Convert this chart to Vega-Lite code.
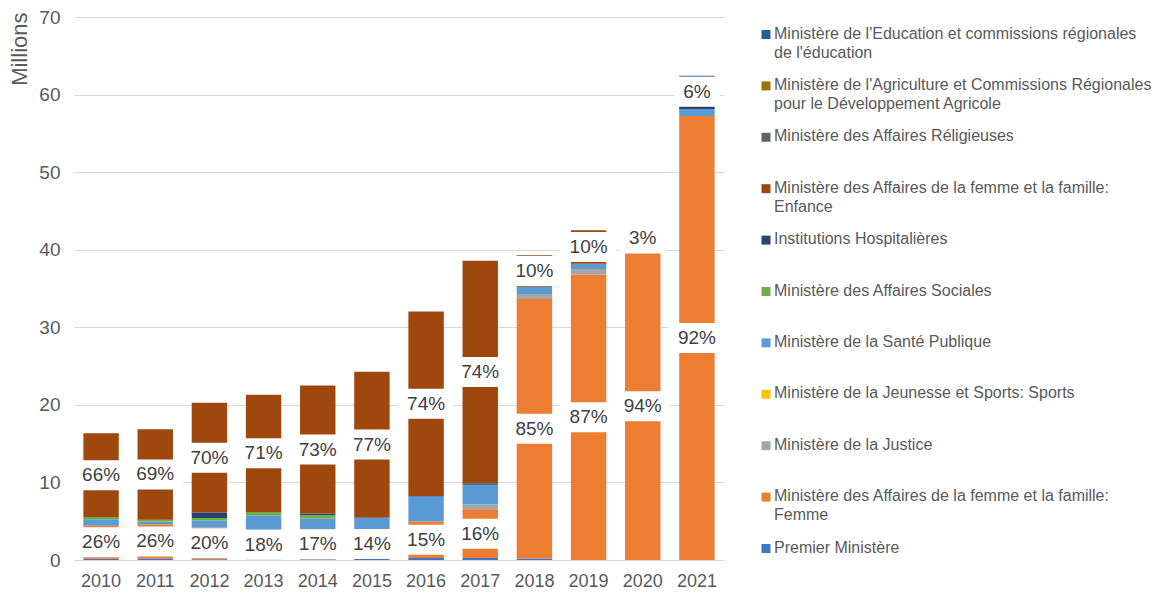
{
  "$schema": "https://vega.github.io/schema/vega-lite/v6.json",
  "width": 650,
  "height": 543,
  "autosize": {"type": "none"},
  "padding": {"left": 74, "top": 17, "right": 436, "bottom": 34},
  "background": "white",
  "config": {"view": {"stroke": null}, "font": "Liberation Sans"},
  "data": {
    "values": [
      {"year": 2010, "m": "Premier Ministère", "v": 0.15},
      {"year": 2010, "m": "Ministère des Affaires de la femme et la famille: Femme", "v": 4.25},
      {"year": 2010, "m": "Ministère de la Santé Publique", "v": 0.85},
      {"year": 2010, "m": "Ministère des Affaires Sociales", "v": 0.28},
      {"year": 2010, "m": "Ministère des Affaires de la femme et la famille: Enfance", "v": 10.8},

      {"year": 2011, "m": "Premier Ministère", "v": 0.2},
      {"year": 2011, "m": "Ministère des Affaires de la femme et la famille: Femme", "v": 4.4},
      {"year": 2011, "m": "Ministère de la Santé Publique", "v": 0.35},
      {"year": 2011, "m": "Ministère des Affaires Sociales", "v": 0.25},
      {"year": 2011, "m": "Ministère des Affaires de la femme et la famille: Enfance", "v": 11.65},

      {"year": 2012, "m": "Premier Ministère", "v": 0.1},
      {"year": 2012, "m": "Ministère des Affaires de la femme et la famille: Femme", "v": 4.1},
      {"year": 2012, "m": "Ministère de la Santé Publique", "v": 0.9},
      {"year": 2012, "m": "Ministère des Affaires Sociales", "v": 0.33},
      {"year": 2012, "m": "Institutions Hospitalières", "v": 0.7},
      {"year": 2012, "m": "Ministère des Affaires de la femme et la famille: Enfance", "v": 14.13},

      {"year": 2013, "m": "Premier Ministère", "v": 0.05},
      {"year": 2013, "m": "Ministère des Affaires de la femme et la famille: Femme", "v": 3.85},
      {"year": 2013, "m": "Ministère de la Santé Publique", "v": 1.86},
      {"year": 2013, "m": "Ministère des Affaires Sociales", "v": 0.43},
      {"year": 2013, "m": "Ministère des Affaires de la femme et la famille: Enfance", "v": 15.12},

      {"year": 2014, "m": "Premier Ministère", "v": 0.1},
      {"year": 2014, "m": "Ministère des Affaires de la femme et la famille: Femme", "v": 3.85},
      {"year": 2014, "m": "Ministère de la Santé Publique", "v": 1.4},
      {"year": 2014, "m": "Ministère des Affaires Sociales", "v": 0.45},
      {"year": 2014, "m": "Institutions Hospitalières", "v": 0.18},
      {"year": 2014, "m": "Ministère des Affaires de la femme et la famille: Enfance", "v": 16.5},

      {"year": 2015, "m": "Premier Ministère", "v": 0.3},
      {"year": 2015, "m": "Ministère des Affaires de la femme et la famille: Femme", "v": 3.5},
      {"year": 2015, "m": "Ministère de la Santé Publique", "v": 1.6},
      {"year": 2015, "m": "Institutions Hospitalières", "v": 0.08},
      {"year": 2015, "m": "Ministère des Affaires de la femme et la famille: Enfance", "v": 18.8},

      {"year": 2016, "m": "Premier Ministère", "v": 0.25},
      {"year": 2016, "m": "Ministère des Affaires de la femme et la famille: Femme", "v": 4.7},
      {"year": 2016, "m": "Ministère de la Santé Publique", "v": 3.25},
      {"year": 2016, "m": "Institutions Hospitalières", "v": 0.05},
      {"year": 2016, "m": "Ministère des Affaires de la femme et la famille: Enfance", "v": 23.8},

      {"year": 2017, "m": "Premier Ministère", "v": 0.25},
      {"year": 2017, "m": "Ministère des Affaires de la femme et la famille: Femme", "v": 6.28},
      {"year": 2017, "m": "Ministère de la Justice", "v": 0.64},
      {"year": 2017, "m": "Ministère de la Santé Publique", "v": 2.53},
      {"year": 2017, "m": "Institutions Hospitalières", "v": 0.18},
      {"year": 2017, "m": "Ministère des Affaires de la femme et la famille: Enfance", "v": 28.7},

      {"year": 2018, "m": "Premier Ministère", "v": 0.2},
      {"year": 2018, "m": "Ministère des Affaires de la femme et la famille: Femme", "v": 33.45},
      {"year": 2018, "m": "Ministère de la Justice", "v": 0.64},
      {"year": 2018, "m": "Ministère de la Santé Publique", "v": 0.94},
      {"year": 2018, "m": "Ministère des Affaires de la femme et la famille: Enfance", "v": 4.05},

      {"year": 2019, "m": "Ministère des Affaires de la femme et la famille: Femme", "v": 36.8},
      {"year": 2019, "m": "Ministère de la Justice", "v": 0.7},
      {"year": 2019, "m": "Ministère de la Santé Publique", "v": 0.7},
      {"year": 2019, "m": "Ministère des Affaires de la femme et la famille: Enfance", "v": 4.3},

      {"year": 2020, "m": "Ministère des Affaires de la femme et la famille: Femme", "v": 39.62},
      {"year": 2020, "m": "Ministère de la Justice", "v": 0.5},
      {"year": 2020, "m": "Ministère de la Santé Publique", "v": 0.68},
      {"year": 2020, "m": "Ministère des Affaires de la femme et la famille: Enfance", "v": 1.3},

      {"year": 2021, "m": "Ministère des Affaires de la femme et la famille: Femme", "v": 57.24},
      {"year": 2021, "m": "Ministère de la Santé Publique", "v": 0.9},
      {"year": 2021, "m": "Institutions Hospitalières", "v": 0.26},
      {"year": 2021, "m": "Ministère des Affaires de la femme et la famille: Enfance", "v": 3.9},
      {"year": 2021, "m": "Ministère de l'Education et commissions régionales de l'éducation", "v": 0.13}
    ]
  },
  "transform": [
    {"calculate": "indexof([\"Premier Ministère\", \"Ministère des Affaires de la femme et la famille: Femme\", \"Ministère de la Justice\", \"Ministère de la Jeunesse et Sports: Sports\", \"Ministère de la Santé Publique\", \"Ministère des Affaires Sociales\", \"Institutions Hospitalières\", \"Ministère des Affaires de la femme et la famille: Enfance\", \"Ministère des Affaires Réligieuses\", \"Ministère de l'Agriculture et Commissions Régionales pour le Développement Agricole\", \"Ministère de l'Education et commissions régionales de l'éducation\"], datum.m)", "as": "k"},
    {"stack": "v", "groupby": ["year"], "sort": [{"field": "k", "order": "ascending"}], "as": ["y0", "y1"]},
    {"joinaggregate": [{"op": "sum", "field": "v", "as": "tot"}], "groupby": ["year"]}
  ],
  "encoding": {
    "x": {
      "field": "year",
      "type": "ordinal",
      "scale": {"paddingInner": 0.346, "paddingOuter": 0.173},
      "axis": {
        "title": null,
        "labelAngle": 0,
        "labelFontSize": 18,
        "labelColor": "#595959",
        "ticks": false,
        "domainColor": "#D9D9D9",
        "domainWidth": 1,
        "labelPadding": 12,
        "grid": false
      }
    }
  },
  "layer": [
    {
      "mark": {"type": "bar"},
      "encoding": {
        "y": {
          "field": "y0",
          "type": "quantitative",
          "title": "Millions",
          "scale": {"domain": [0, 70], "nice": false},
          "axis": {
            "values": [0, 10, 20, 30, 40, 50, 60, 70],
            "grid": true,
            "gridColor": "#D9D9D9",
            "gridWidth": 1,
            "domain": false,
            "ticks": false,
            "labelFontSize": 19,
            "labelColor": "#595959",
            "labelPadding": 14,
            "titleFontSize": 22,
            "titleFontWeight": "normal",
            "titleColor": "#595959",
            "titleAngle": -90,
            "titleX": -55,
            "titleY": -5,
            "titleAlign": "right",
            "titleBaseline": "middle"
          }
        },
        "y2": {"field": "y1"},
        "color": {
          "field": "m",
          "type": "nominal",
          "scale": {
            "domain": [
              "Ministère de l'Education et commissions régionales de l'éducation",
              "Ministère de l'Agriculture et Commissions Régionales pour le Développement Agricole",
              "Ministère des Affaires Réligieuses",
              "Ministère des Affaires de la femme et la famille: Enfance",
              "Institutions Hospitalières",
              "Ministère des Affaires Sociales",
              "Ministère de la Santé Publique",
              "Ministère de la Jeunesse et Sports: Sports",
              "Ministère de la Justice",
              "Ministère des Affaires de la femme et la famille: Femme",
              "Premier Ministère"
            ],
            "range": ["#255E91", "#997300", "#636363", "#9E480E", "#264478", "#70AD47", "#5B9BD5", "#FFC000", "#A5A5A5", "#ED7D31", "#4472C4"]
          },
          "legend": {
            "orient": "none",
            "legendX": 684,
            "legendY": 9.5,
            "title": null,
            "symbolType": "square",
            "symbolSize": 81,
            "symbolStrokeWidth": 0,
            "symbolOpacity": 1,
            "labelFontSize": 16,
            "labelColor": "#595959",
            "labelLimit": 500,
            "labelOffset": 0,
            "rowPadding": 16.4,
            "padding": 0,
            "labelBaseline": "top",
            "labelExpr": "indexof(datum.label,'Education')>=0 ? [\"Ministère de l'Education et commissions régionales\", \"de l'éducation\"] : indexof(datum.label,'Agriculture')>=0 ? [\"Ministère de l'Agriculture et Commissions Régionales\", \"pour le Développement Agricole\"] : indexof(datum.label,'famille: ')>=0 ? [\"Ministère des Affaires de la femme et la famille:\", indexof(datum.label,'Enfance')>=0 ? 'Enfance' : 'Femme'] : [datum.label, ' ']",
            "encode": {"labels": {"update": {"dy": {"value": -9}, "lineHeight": {"value": 19}}}}
          }
        }
      }
    },
    {
      "transform": [
        {"filter": "indexof(datum.m, 'famille: ') >= 0"},
        {"calculate": "(datum.y0 + datum.y1) / 2", "as": "mid"},
        {"calculate": "format(datum.v / datum.tot, '.0%')", "as": "lab"}
      ],
      "layer": [
        {
          "mark": {"type": "tick", "color": "white", "opacity": 1, "thickness": 30, "orient": "horizontal"},
          "encoding": {
            "y": {"field": "mid", "type": "quantitative", "title": "Millions"},
            "size": {"condition": {"test": "length(datum.lab) < 3", "value": 46}, "value": 56}
          }
        },
        {
          "mark": {"type": "text", "fontSize": 19, "color": "#404040"},
          "encoding": {
            "y": {"field": "mid", "type": "quantitative", "title": "Millions"},
            "text": {"field": "lab"}
          }
        }
      ]
    }
  ]
}
